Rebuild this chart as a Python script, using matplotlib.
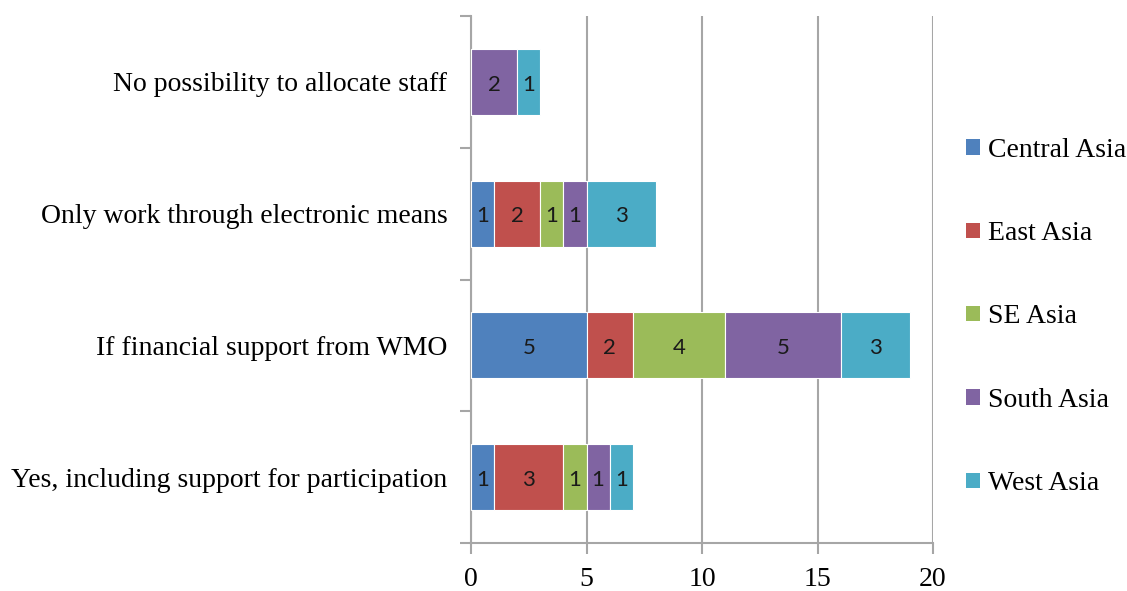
import matplotlib
matplotlib.use("Agg")
import matplotlib.pyplot as plt
import numpy as np

categories = [
    "Yes, including support for participation",
    "If financial support from WMO",
    "Only work through electronic means",
    "No possibility to allocate staff",
]
regions = ["Central Asia", "East Asia", "SE Asia", "South Asia", "West Asia"]
central_asia = [1, 5, 1, 0]
east_asia = [3, 2, 2, 0]
se_asia = [1, 4, 1, 0]
south_asia = [1, 5, 1, 2]
west_asia = [1, 3, 3, 1]
series = [central_asia, east_asia, se_asia, south_asia, west_asia]
colors = ["#4F81BD", "#C0504D", "#9BBB59", "#8064A2", "#4BACC6"]
x_ticks = [0, 5, 10, 15, 20]

fig = plt.figure(figsize=(11.27, 5.91), dpi=100)
ax = fig.add_axes([471 / 1127, 1 - 543 / 591, (933 - 471) / 1127, (543 - 16) / 591])

y = np.arange(len(categories))
left = np.zeros(len(categories))
for name, vals, col in zip(regions, series, colors):
    vals = np.array(vals, dtype=float)
    bars = ax.barh(y, vals, left=left, height=0.5, color=col, label=name,
                   edgecolor="white", linewidth=0.8, zorder=3)
    for b, v in zip(bars, vals):
        if v > 0:
            ax.text(b.get_x() + b.get_width() / 2, b.get_y() + b.get_height() / 2 - 0.02,
                    f"{int(v)}", ha="center", va="center", fontsize=16,
                    family="Lato", color="#1a1a1a", zorder=4)
    left += vals

grid_c = "#a6a6a6"
ax.set_xlim(0, 20)
ax.set_ylim(-0.5, 3.5)
ax.set_xticks(x_ticks)
ax.set_xticklabels([str(t) for t in x_ticks], family="Liberation Serif", fontsize=20)
ax.xaxis.grid(True, color=grid_c, linewidth=1.5, zorder=0)
ax.set_yticks(np.arange(-0.5, 4, 1.0))
ax.set_yticklabels([])
ax.set_yticks(y, minor=True)
ax.set_yticklabels(categories, minor=True, family="Liberation Serif", fontsize=20)
ax.tick_params(axis="y", which="minor", length=0, pad=17)
ax.tick_params(axis="y", which="major", length=8, width=1.5, color=grid_c)
ax.tick_params(axis="x", length=8, width=1.5, color=grid_c, pad=9)
for s in ["top", "right"]:
    ax.spines[s].set_visible(False)
for s in ["left", "bottom"]:
    ax.spines[s].set_color(grid_c)
    ax.spines[s].set_linewidth(1.5)
ax.set_axisbelow(True)

leg = ax.legend(loc="upper left", bbox_to_anchor=(1.048, 0.79), frameon=False,
                prop={"family": "Liberation Serif", "size": 20},
                handlelength=0.48, handleheight=0.48, handletextpad=0.3,
                labelspacing=2.1, borderaxespad=0)
for h in leg.legend_handles:
    h.set_edgecolor("none")

fig.savefig("out.png", dpi=100)
